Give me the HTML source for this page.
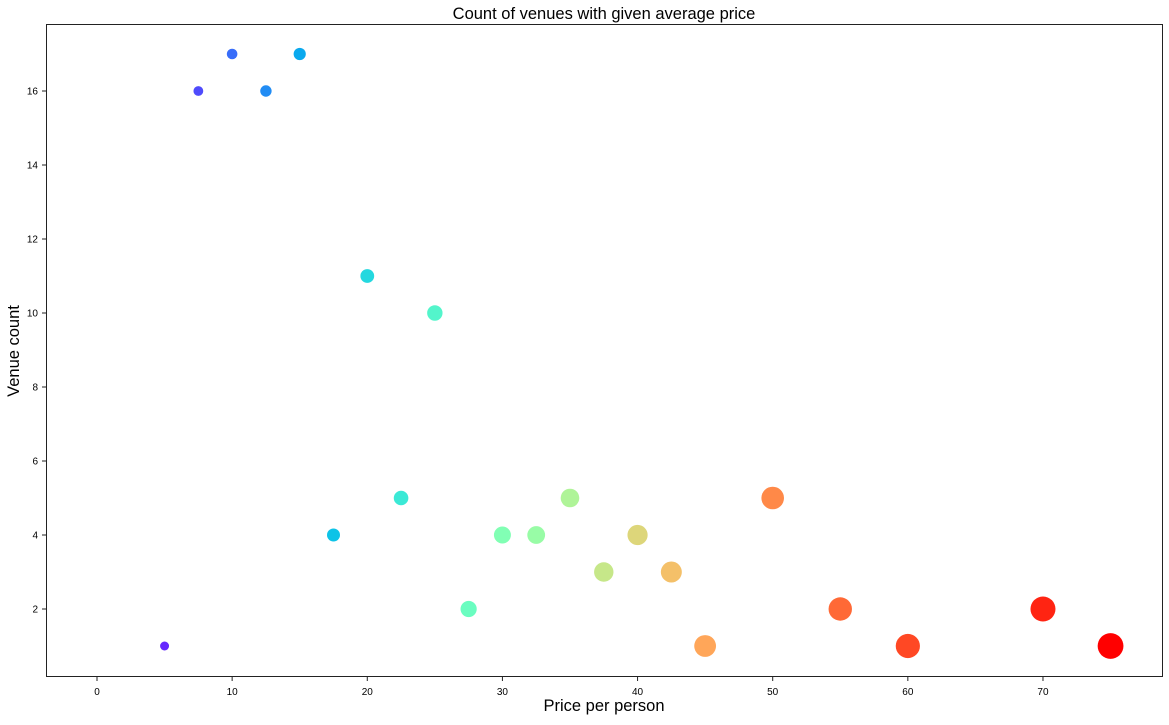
<!DOCTYPE html>
<html><head><meta charset="utf-8"><style>
body{margin:0;background:#fff;}
svg text{font-family:"Liberation Sans","DejaVu Sans",sans-serif;fill:#000;}
</style></head><body>
<svg width="1169" height="720" xmlns="http://www.w3.org/2000/svg">
<text x="604" y="19" font-size="16.5" text-anchor="middle">Count of venues with given average price</text>
<g id="plot"></g>
<rect x="46.5" y="24.5" width="1116" height="652" fill="none" stroke="#222" stroke-width="1"/>
<g id="xt"></g>
<g id="yt"></g>
<text x="604" y="711" font-size="16.5" text-anchor="middle">Price per person</text>
<text transform="translate(19,351) rotate(-90)" font-size="16.5" text-anchor="middle">Venue count</text>
</svg>
<script>
const prices=[5,7.5,10,12.5,15,17.5,20,22.5,25,27.5,30,32.5,35,37.5,40,42.5,45,50,55,60,70,75];
const counts=[1,16,17,16,17,4,11,5,10,2,4,4,5,3,4,3,1,5,2,1,2,1];
const xTicks=[0,10,20,30,40,50,60,70];
const yTicks=[2,4,6,8,10,12,14,16];
const NS="http://www.w3.org/2000/svg";
const xs=v=>97+v*13.514;
const ys=v=>683-v*37;
function rainbow(t){const r=Math.min(1,Math.abs(2*t-0.5)),g=Math.sin(Math.PI*t),b=Math.cos(Math.PI*t/2);return `rgb(${Math.round(r*255)},${Math.round(g*255)},${Math.round(b*255)})`;}
const n=prices.length;
const plot=document.getElementById('plot');
prices.forEach((p,i)=>{
 const t=i/(n-1);
 const c=document.createElementNS(NS,'circle');
 c.setAttribute('cx',xs(p));c.setAttribute('cy',ys(counts[i]));
 c.setAttribute('r',4.5+0.4*i);
 c.setAttribute('fill',rainbow(0.05+0.95*t));
 
 
 plot.appendChild(c);
});
const xt=document.getElementById('xt');
xTicks.forEach(v=>{
 const l=document.createElementNS(NS,'line');
 l.setAttribute('x1',xs(v));l.setAttribute('x2',xs(v));l.setAttribute('y1',677);l.setAttribute('y2',681);l.setAttribute('stroke','#222');
 
 
 xt.appendChild(l);
 const t=document.createElementNS(NS,'text');
 t.setAttribute('x',xs(v));t.setAttribute('y',695);t.setAttribute('font-size','10');t.setAttribute('text-anchor','middle');
 t.textContent=v;
 
 
 xt.appendChild(t);
});
const yt=document.getElementById('yt');
yTicks.forEach(v=>{
 const l=document.createElementNS(NS,'line');
 l.setAttribute('x1',42);l.setAttribute('x2',46);l.setAttribute('y1',ys(v));l.setAttribute('y2',ys(v));l.setAttribute('stroke','#222');
 
 
 yt.appendChild(l);
 const t=document.createElementNS(NS,'text');
 t.setAttribute('x',38);t.setAttribute('y',ys(v)+3.5);t.setAttribute('font-size','10');t.setAttribute('text-anchor','end');
 t.textContent=v;
 
 
 yt.appendChild(t);
});
</script>
</body></html>
